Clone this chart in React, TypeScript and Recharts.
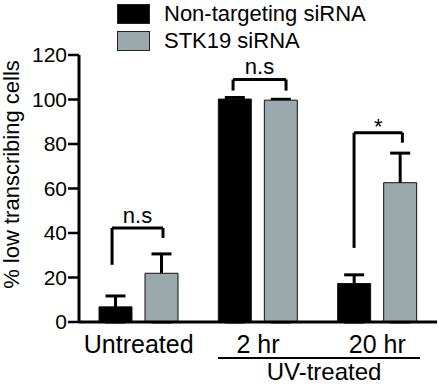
import { BarChart, Bar, XAxis, YAxis, ErrorBar, ReferenceLine, Legend } from 'recharts'

const categories = ['Untreated', '2 hr', '20 hr']
const nonTargeting = [6.8, 100.2, 17.3]
const nonTargetingErr = [4.9, 0.7, 3.9]
const stk19 = [21.9, 99.7, 62.6]
const stk19Err = [8.7, 0.4, 13.3]
const yTicks = [0, 20, 40, 60, 80, 100, 120]

// significance brackets in category-band units: [xLeft, xRight, yTop, yLeftEnd, yRightEnd, label]
const brackets: [number, number, number, number, number, string][] = [
  [0.277, 0.704, 42.3, 25.7, 37.8, 'n.s'],
  [1.291, 1.735, 109, 104, 104, 'n.s'],
  [2.305, 2.71, 85.1, 33.3, 80.6, '*'],
]
const groupSpan = [1.165, 2.858]
const groupLabel = 'UV-treated'
const groupY = -16.2

const GREY = '#9ba8ac'
const FONT = '"Liberation Sans", Arial, sans-serif'

// the hidden helper axis spans the category indices (0 .. n-1) across the plot width
const hx = (c: number) => (c * (categories.length - 1)) / categories.length

const data = categories.map((name, i) => ({
  name,
  nt: nonTargeting[i],
  ntErr: [nonTargeting[i], nonTargetingErr[i]],
  stk: stk19[i],
  stkErr: [stk19[i], stk19Err[i]],
}))

function LegendBox({ payload }: any) {
  return (
    <div style={{ fontFamily: FONT, fontSize: 22, color: '#000' }}>
      {(payload || []).map((p: any) => (
        <div key={p.value} style={{ display: 'flex', alignItems: 'center', height: 27 }}>
          <span style={{ width: 31, height: 18, background: p.color, border: '1px solid #222', marginRight: 14 }} />
          <span>{p.value}</span>
        </div>
      ))}
    </div>
  )
}

export default function App() {
  return (
    <div style={{ position: 'absolute', left: 0, top: 0 }}>
      <BarChart
        width={439}
        height={390}
        data={data}
        margin={{ top: 55, right: 2, left: 0, bottom: 0 }}
        barSize={33}
        barGap={13}
        style={{ fontFamily: FONT }}
      >
        <XAxis
          dataKey="name"
          height={68}
          axisLine={{ stroke: '#000', strokeWidth: 3 }}
          tickLine={false}
          tickSize={6}
          tickMargin={7}
          tick={{ fontSize: 25, fill: '#000' }}
        />
        <XAxis xAxisId="num" type="number" domain={[0, categories.length - 1]} allowDataOverflow hide />
        <YAxis
          width={79}
          domain={[0, 120]}
          ticks={yTicks}
          axisLine={{ stroke: '#000', strokeWidth: 3 }}
          tickLine={{ stroke: '#000', strokeWidth: 2.5 }}
          tickSize={11}
          tickMargin={1}
          tick={{ fontSize: 21, fill: '#000' }}
          label={{
            content: ({ viewBox }: any) => {
              const x = viewBox.x + 19
              const y = viewBox.y + viewBox.height / 2 - 14
              return (
                <text x={x} y={y} transform={`rotate(-90, ${x}, ${y})`} textAnchor="middle" fontSize={22} fill="#000" fontFamily={FONT}>
                  % low transcribing cells
                </text>
              )
            },
          }}
        />
        <Legend
          layout="horizontal"
          verticalAlign="middle"
          align="center"
          wrapperStyle={{ top: 0, left: 117, width: 'auto' }}
          content={<LegendBox />}
        />
        <Bar dataKey="nt" name="Non-targeting siRNA" fill="#000" stroke="#111" strokeWidth={1} isAnimationActive={false}>
          <ErrorBar dataKey="ntErr" direction="y" width={10} stroke="#000" strokeWidth={3} zIndex={250} />
        </Bar>
        <Bar dataKey="stk" name="STK19 siRNA" fill={GREY} stroke="#111" strokeWidth={1} isAnimationActive={false}>
          <ErrorBar dataKey="stkErr" direction="y" width={10} stroke="#000" strokeWidth={3} zIndex={250} />
        </Bar>
        {brackets.map(([x1, x2, top, l, r, text], i) => [
          <ReferenceLine key={`l${i}`} xAxisId="num" ifOverflow="visible" stroke="#000" strokeWidth={3}
            segment={[{ x: hx(x1), y: l }, { x: hx(x1), y: top }]} />,
          <ReferenceLine key={`t${i}`} xAxisId="num" ifOverflow="visible" stroke="#000" strokeWidth={3}
            segment={[{ x: hx(x1), y: top }, { x: hx(x2), y: top }]}
            label={{ value: text, position: 'top', offset: text === '*' ? -1 : 5, fontSize: 22, fill: '#000' }} />,
          <ReferenceLine key={`r${i}`} xAxisId="num" ifOverflow="visible" stroke="#000" strokeWidth={3}
            segment={[{ x: hx(x2), y: top }, { x: hx(x2), y: r }]} />,
        ])}
        <ReferenceLine xAxisId="num" ifOverflow="visible" stroke="#000" strokeWidth={2}
          segment={[{ x: hx(groupSpan[0]), y: groupY }, { x: hx(groupSpan[1]), y: groupY }]}
          label={{ value: groupLabel, position: 'bottom', offset: 5, dx: 5, fontSize: 24, fill: '#000' }} />
      </BarChart>
    </div>
  )
}
